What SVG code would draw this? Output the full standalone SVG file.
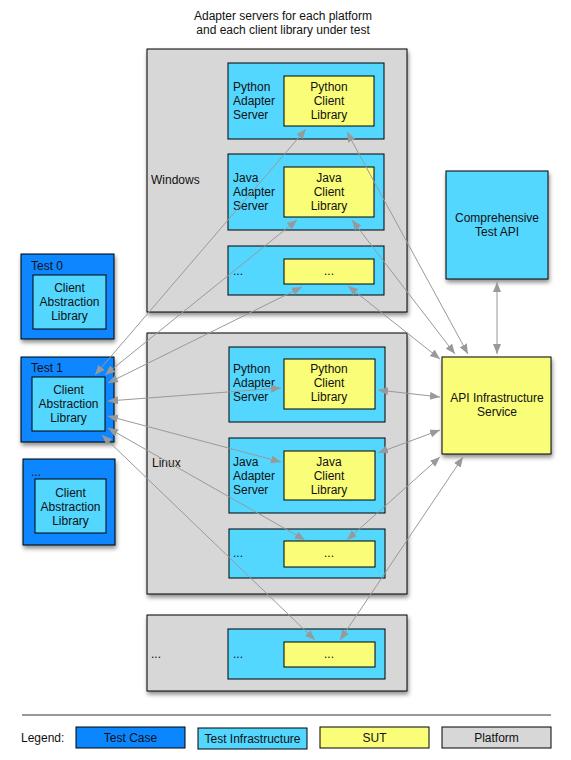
<svg xmlns="http://www.w3.org/2000/svg" width="571" height="760" viewBox="0 0 571 760">
<style>
text{font-family:"Liberation Sans",Arial,sans-serif;font-size:12px;fill:#111}
.c{text-anchor:middle}
.plat{fill:#d7d7d7;stroke:#000;stroke-width:1}
.tc{fill:#0a86ff;stroke:#000;stroke-width:1}
.ti{fill:#53d7ff;stroke:#000;stroke-width:1}
.sut{fill:#fafd78;stroke:#000;stroke-width:1}
.sh{filter:url(#shadow)}
.conn{fill:none;stroke:#999;stroke-width:1;marker-start:url(#ah);marker-end:url(#ah)}
</style>
<defs>
<filter id="shadow" x="-10%" y="-10%" width="130%" height="130%">
<feDropShadow dx="1" dy="3" stdDeviation="2" flood-color="#000" flood-opacity="0.45"/>
</filter>
<marker id="ah" markerUnits="userSpaceOnUse" markerWidth="12" markerHeight="10" refX="10" refY="4" orient="auto-start-reverse">
<path d="M0,0 L10,4 L0,8 Z" fill="#999"/>
</marker>
</defs>

<text class="c" x="283" y="20">Adapter servers for each platform</text>
<text class="c" x="283" y="34">and each client library under test</text>

<g id="windows">
<rect class="plat sh" x="147" y="49" width="260" height="263"/>
<text x="151" y="184">Windows</text>
</g>
<g id="win-python">
<rect class="ti" x="228" y="63" width="156" height="76"/>
<text x="233" y="91">Python</text><text x="233" y="105">Adapter</text><text x="233" y="119">Server</text>
<rect class="sut" x="284" y="76" width="90" height="50"/>
<text class="c" x="329" y="91">Python</text><text class="c" x="329" y="105">Client</text><text class="c" x="329" y="119">Library</text>
</g>
<g id="win-java">
<rect class="ti" x="228" y="154" width="156" height="76"/>
<text x="233" y="182">Java</text><text x="233" y="196">Adapter</text><text x="233" y="210">Server</text>
<rect class="sut" x="284" y="167" width="90" height="50"/>
<text class="c" x="329" y="182">Java</text><text class="c" x="329" y="196">Client</text><text class="c" x="329" y="210">Library</text>
</g>
<g id="win-more">
<rect class="ti" x="228" y="246" width="156" height="49"/>
<text x="233" y="275">...</text>
<rect class="sut" x="284" y="259" width="90" height="25"/>
<text class="c" x="329" y="275">...</text>
</g>

<g id="linux">
<rect class="plat sh" x="147" y="333" width="260" height="261"/>
<text x="152" y="467">Linux</text>
</g>
<g id="lin-python">
<rect class="ti" x="229" y="347" width="156" height="75"/>
<text x="233" y="373">Python</text><text x="233" y="387">Adapter</text><text x="233" y="401">Server</text>
<rect class="sut" x="284" y="359" width="91" height="50"/>
<text class="c" x="329" y="373">Python</text><text class="c" x="329" y="387">Client</text><text class="c" x="329" y="401">Library</text>
</g>
<g id="lin-java">
<rect class="ti" x="229" y="438" width="156" height="75"/>
<text x="233" y="466">Java</text><text x="233" y="480">Adapter</text><text x="233" y="494">Server</text>
<rect class="sut" x="284" y="451" width="91" height="49"/>
<text class="c" x="329" y="466">Java</text><text class="c" x="329" y="480">Client</text><text class="c" x="329" y="494">Library</text>
</g>
<g id="lin-more">
<rect class="ti" x="229" y="529" width="156" height="49"/>
<text x="233" y="557">...</text>
<rect class="sut" x="284" y="541" width="91" height="26"/>
<text class="c" x="329" y="557">...</text>
</g>

<g id="other-platform">
<rect class="plat sh" x="147" y="615" width="260" height="76"/>
<text x="151" y="658">...</text>
</g>
<g id="other-more">
<rect class="ti" x="228" y="629" width="157" height="50"/>
<text x="233" y="658">...</text>
<rect class="sut" x="284" y="642" width="91" height="25"/>
<text class="c" x="329" y="658">...</text>
</g>

<g id="test0">
<rect class="tc sh" x="21" y="254" width="93" height="85"/>
<text x="31" y="270">Test 0</text>
<rect class="ti" x="33" y="275" width="73" height="54"/>
<text class="c" x="69.5" y="292">Client</text><text class="c" x="69.5" y="306">Abstraction</text><text class="c" x="69.5" y="320">Library</text>
</g>
<g id="test1">
<rect class="tc sh" x="21" y="357" width="93" height="85"/>
<text x="31" y="372">Test 1</text>
<rect class="ti" x="32" y="377" width="73" height="54"/>
<text class="c" x="68.5" y="394">Client</text><text class="c" x="68.5" y="408">Abstraction</text><text class="c" x="68.5" y="422">Library</text>
</g>
<g id="testn">
<rect class="tc sh" x="23" y="459" width="92" height="86"/>
<text x="31" y="476">...</text>
<rect class="ti" x="35" y="479" width="71" height="54"/>
<text class="c" x="70.5" y="497">Client</text><text class="c" x="70.5" y="511">Abstraction</text><text class="c" x="70.5" y="525">Library</text>
</g>

<g id="comprehensive-api">
<rect class="ti sh" x="446" y="171" width="102" height="108"/>
<text class="c" x="497" y="222">Comprehensive</text><text class="c" x="497" y="236">Test API</text>
</g>
<g id="api-service">
<rect class="sut sh" x="442" y="357" width="109" height="97"/>
<text class="c" x="497" y="402">API Infrastructure</text><text class="c" x="497" y="416">Service</text>
</g>

<g id="connectors">
<path class="conn" d="M95,375 L306,129"/>
<path class="conn" d="M105,375 L297,220"/>
<path class="conn" d="M108,383 L302,287"/>
<path class="conn" d="M108,401 L281,388"/>
<path class="conn" d="M108,416 L281,462"/>
<path class="conn" d="M108,428 L305,540"/>
<path class="conn" d="M102,435 L315,640"/>
<path class="conn" d="M347,132 L468,354"/>
<path class="conn" d="M352,220 L455,354"/>
<path class="conn" d="M348,286 L440,359"/>
<path class="conn" d="M378,390 L440,397"/>
<path class="conn" d="M378,453 L440,430"/>
<path class="conn" d="M347,540 L440,457"/>
<path class="conn" d="M340,640 L463,457"/>
<path class="conn" d="M497,282 L497,354"/>
</g>

<g id="legend">
<line x1="22" y1="715" x2="551" y2="715" stroke="#333" stroke-width="1"/>
<text x="21" y="742">Legend:</text>
<rect class="tc" x="76" y="727" width="109" height="21"/>
<text class="c" x="130.5" y="742">Test Case</text>
<rect class="ti" x="198" y="728" width="109" height="21"/>
<text class="c" x="252.5" y="743">Test Infrastructure</text>
<rect class="sut" x="320" y="727" width="109" height="21"/>
<text class="c" x="374.5" y="742">SUT</text>
<rect class="plat" x="442" y="727" width="109" height="21"/>
<text class="c" x="496.5" y="742">Platform</text>
</g>
</svg>
